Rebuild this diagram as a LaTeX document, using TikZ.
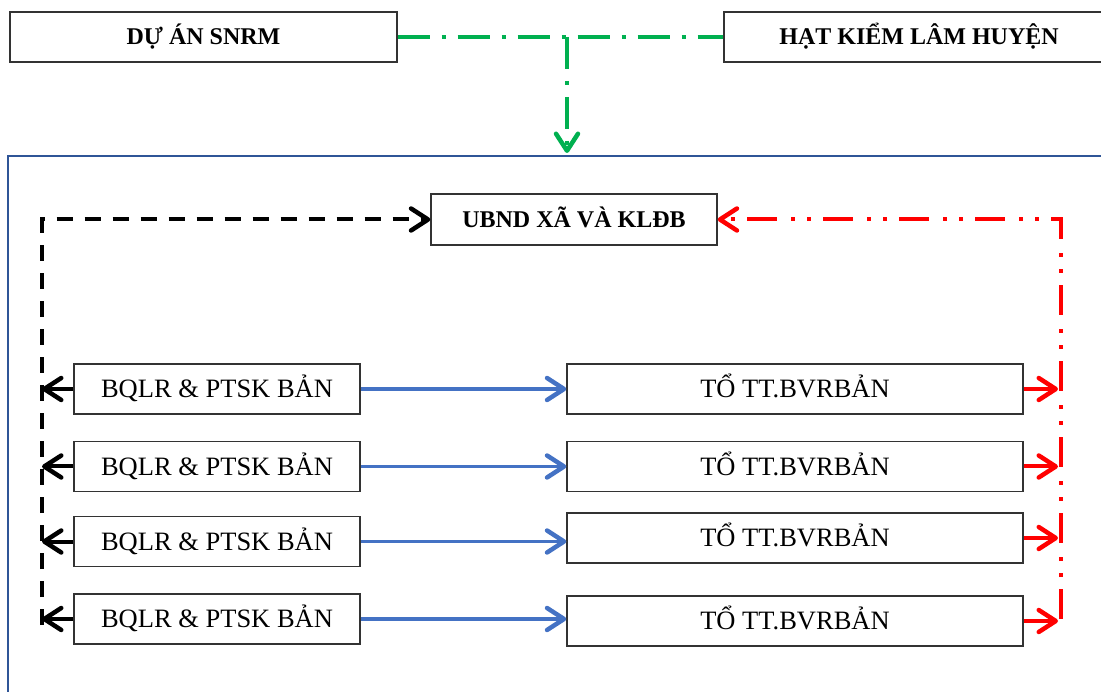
\documentclass[tikz,border=0pt]{standalone}
\usepackage{fontspec}
\setmainfont{Liberation Serif}
\usetikzlibrary{arrows.meta}
\definecolor{ggreen}{HTML}{00B050}
\definecolor{bblue}{HTML}{4472C4}
\definecolor{fblue}{HTML}{2F5597}
\definecolor{rred}{HTML}{FF0000}
\tikzset{
  barb/.tip={Straight Barb[length=17pt,width=22pt,line width=4.5pt,line cap=round,line join=round]},
  box/.style={draw=black!80, line width=1.4pt, fill=white, inner sep=0pt, align=center},
  topbox/.style={box, minimum height=50pt, text height=16pt, text depth=0pt, font=\fontsize{24}{28}\selectfont\bfseries},
  lbox/.style={box, minimum width=286pt, minimum height=50pt, text height=17.5pt, text depth=0pt, font=\fontsize{26.5}{30}\selectfont},
  rbox/.style={box, minimum width=456pt, minimum height=50pt, text height=17.5pt, text depth=0pt, font=\fontsize{26.5}{30}\selectfont},
  greenline/.style={draw=ggreen, line width=4pt, dash pattern=on 32pt off 12pt on 4pt off 12pt},
  blackdash/.style={draw=black, line width=4pt, dash pattern=on 16pt off 12pt},
  reddash/.style={draw=rred, line width=4pt, dash pattern=on 30pt off 12pt on 4pt off 12pt on 4pt off 14pt},
  blueline/.style={draw=bblue, line width=3.5pt, -{barb}},
  blackshort/.style={draw=black, line width=4pt, -{barb}},
  redshort/.style={draw=rred, line width=4pt, -{barb}},
}
\begin{document}
\begin{tikzpicture}[x=1pt,y=-1pt]
\useasboundingbox (0,0) rectangle (1101,692);
\clip (0,0) rectangle (1101,692);
% frame
\draw[fblue, line width=1.5pt] (8,156) rectangle (1120,710);
% top boxes
\node[topbox, minimum width=387pt] (duan) at (203.5,37) {DỰ ÁN SNRM};
\node[topbox, minimum width=390pt] (hat) at (919,37) {HẠT KIỂM LÂM HUYỆN};
\coordinate (gj) at (567,37);
\coordinate (gt) at (567,153);
\draw[greenline] (duan.east) -- (hat.west);
\draw[greenline, -{barb}] (gj) -- (gt);
% UBND
\node[topbox, minimum width=286pt, minimum height=51pt] (ubnd) at (574,219.5) {UBND XÃ VÀ KLĐB};
% rows
\node[lbox] (L1) at (217,389) {BQLR \& PTSK BẢN};
\node[lbox] (L2) at (217,466.5) {BQLR \& PTSK BẢN};
\node[lbox] (L3) at (217,541.5) {BQLR \& PTSK BẢN};
\node[lbox] (L4) at (217,619) {BQLR \& PTSK BẢN};
\node[rbox] (R1) at (795,389) {TỔ TT.BVRBẢN};
\node[rbox] (R2) at (795,466.5) {TỔ TT.BVRBẢN};
\node[rbox] (R3) at (795,538) {TỔ TT.BVRBẢN};
\node[rbox] (R4) at (795,621) {TỔ TT.BVRBẢN};
% blue arrows
\foreach \i in {1,2,3,4}{
  \draw[blueline] (L\i.east) -- (L\i.east -| R\i.west);
}
% black dashed bus
\coordinate (bb) at (42,625);
\coordinate (bx) at (42,0);
\draw[blackdash, -{barb}] (bb) |- (ubnd.west);
\foreach \i in {1,2,3,4}{
  \draw[blackshort] (L\i.west) -- (L\i.west -| bx);
}
% red dash-dot-dot bus
\coordinate (rb) at (1061,619);
\coordinate (rx) at (1058,0);
\draw[reddash, -{barb}] (rb) |- (ubnd.east);
\foreach \i in {1,2,3,4}{
  \draw[redshort] (R\i.east) -- (R\i.east -| rx);
}
\end{tikzpicture}
\end{document}
